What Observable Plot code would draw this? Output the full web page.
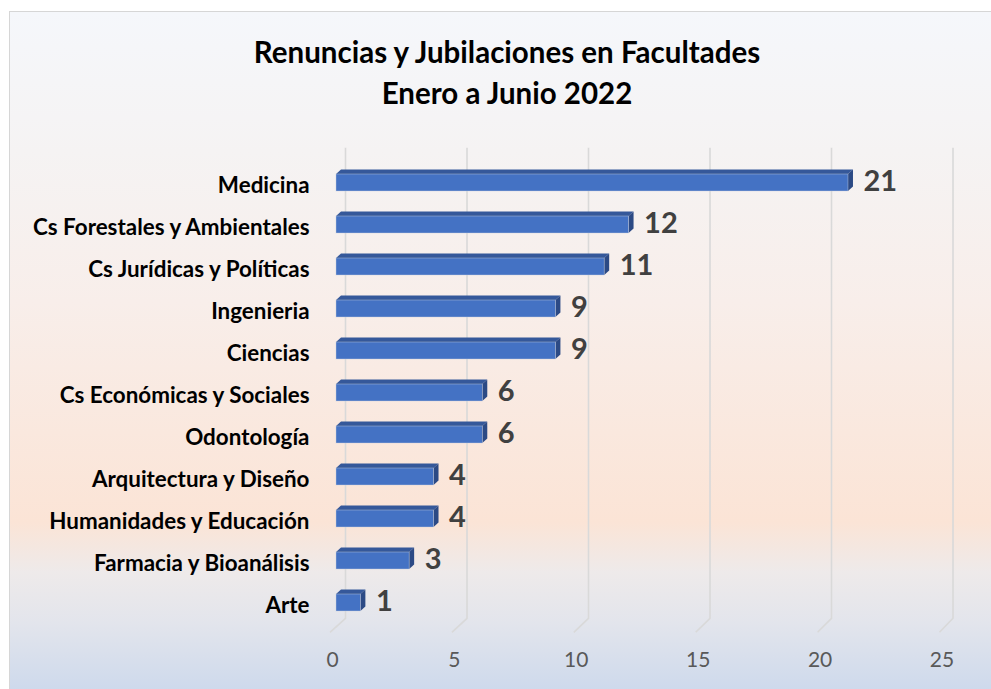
<!DOCTYPE html>
<html><head><meta charset="utf-8">
<script src="https://cdn.jsdelivr.net/npm/d3@7"></script>
<script src="https://cdn.jsdelivr.net/npm/@observablehq/plot@0.6"></script>
<style>
body{margin:0;background:#fff;}
#wrap{position:relative;width:991px;height:689px;overflow:hidden;font-family:Lato,"Noto Sans",sans-serif;}
#frame{position:absolute;left:9px;top:11px;width:1000px;height:700px;border:1px solid #d6d6d6;
background:linear-gradient(to bottom,#f5f7fb 0px,#f5f3f3 140px,#f8eeea 290px,#fae8de 420px,#fbe4d6 510px,#eeeaea 560px,#e3e5ec 610px,#cdd9ec 680px);}
#title{position:absolute;left:9px;width:996px;top:31px;text-align:center;font-weight:bold;font-size:29.5px;line-height:41px;color:#000;}
#chart{position:absolute;left:0;top:0;}
</style></head>
<body><div id="wrap"><div id="frame"></div>
<div id="title">Renuncias y Jubilaciones en Facultades<br>Enero a Junio 2022</div>
<div id="chart"></div></div>
<script>
const categories = ["Medicina","Cs Forestales y Ambientales","Cs Jurídicas y Políticas","Ingenieria","Ciencias","Cs Económicas y Sociales","Odontología","Arquitectura y Diseño","Humanidades y Educación","Farmacia y Bioanálisis","Arte"];
const values = [21,12,11,9,9,6,6,4,4,3,1];
const tickValues = [0,5,10,15,20,25];

const data = categories.map((c,i)=>({cat:c, value:values[i]}));
const DX = 5, DY = 4.5;

function bw(s){ return typeof s.bandwidth === "function" ? s.bandwidth() : s.bandwidth; }

function gridMark(index, scales, vals, dims){
  const x = scales.x;
  const g = d3.create("svg:g").attr("fill","none").attr("stroke","#d9d9d9").attr("stroke-width",1.6);
  const top = dims.marginTop - 10, bot = dims.height - dims.marginBottom - 8, floor = dims.height - dims.marginBottom + 6;
  for (const v of tickValues){
    const xb = x(v) + 9.5 - 0.08*v, xf = x(v) - 6;
    g.append("path").attr("d",`M${xb},${top}L${xb},${bot}L${xf},${floor}`);
  }
  return g.node();
}

function sideFaces(index, scales, vals, dims){
  const x = scales.x, y = scales.y, h = bw(y);
  const g = d3.create("svg:g");
  for (const d of data){
    const x0 = x(0), x1 = x(d.value), yt = y(d.cat), yb = yt + h;
    g.append("path").attr("fill","#35589a")
      .attr("d",`M${x0},${yt}L${x1},${yt}L${x1+DX},${yt-DY}L${x0+DX},${yt-DY}Z`);
    g.append("path").attr("fill","#2c4a85")
      .attr("d",`M${x1},${yt}L${x1+DX},${yt-DY}L${x1+DX},${yb-DY}L${x1},${yb}Z`);
  }
  return g.node();
}

const plot = Plot.plot({
  width: 991, height: 689,
  marginLeft: 336, marginRight: 45.5, marginTop: 157.7, marginBottom: 62.7,
  style: {background:"transparent", fontFamily:"Lato, 'Noto Sans', sans-serif", overflow:"visible"},
  x: {domain:[0,25], range:[336,945.5], axis:null},
  y: {domain:categories, range:[157.7,626.3], paddingInner:0.6, paddingOuter:0.3, axis:null},
  marks: [
    gridMark,
    sideFaces,
    Plot.barX(data, {x:"value", y:"cat", fill:"#4472c4", stroke:"#c9cfdc", strokeWidth:0.6, strokeOpacity:0.7}),
    Plot.text(data, {x:"value", y:"cat", text:d=>String(d.value), dx:15, dy:-1.5, textAnchor:"start", fontSize:29, fontWeight:"bold", fill:"#404040"}),
    Plot.text(data, {y:"cat", text:"cat", frameAnchor:"left", textAnchor:"end", dx:-27, dy:2.5, fontSize:22.4, fontWeight:"bold", fill:"#000"}),
    Plot.text(tickValues, {x:d=>d, text:d=>String(d), frameAnchor:"bottom", dx:-4, dy:40, fontSize:21, fill:"#595959"})
  ]
});
document.getElementById("chart").appendChild(plot);
</script>
</body></html>
